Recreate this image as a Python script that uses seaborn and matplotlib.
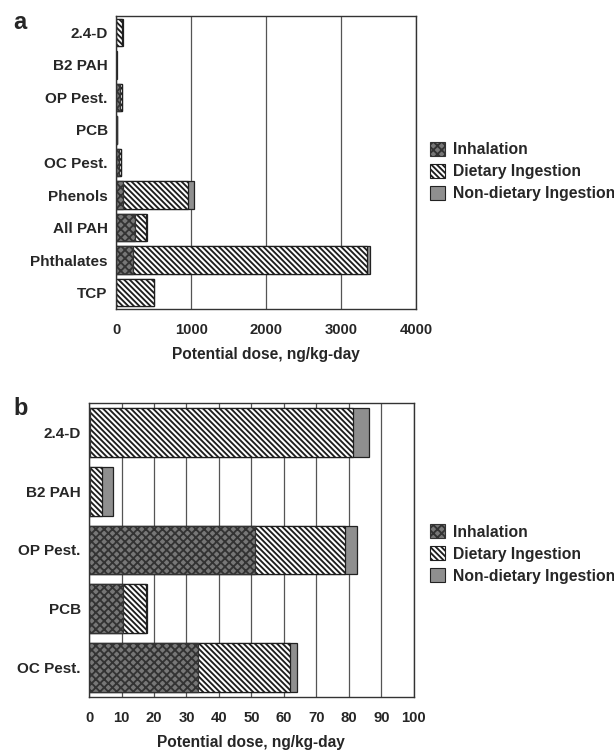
import matplotlib
matplotlib.use("Agg")
import matplotlib.pyplot as plt
from matplotlib.patches import Patch
import seaborn as sns
import pandas as pd

# ---- data ----
cats_a = ["2.4-D", "B2 PAH", "OP Pest.", "PCB", "OC Pest.", "Phenols", "All PAH", "Phthalates", "TCP"]
inhal_a = [0.3, 0.3, 51, 10.5, 33.6, 95, 250, 225, 0]
diet_a = [81, 3.8, 27.8, 7, 28.4, 860, 155, 3120, 505]
nondiet_a = [5, 3.3, 3.7, 0.3, 2.1, 80, 5, 37, 0]

cats_b = ["2.4-D", "B2 PAH", "OP Pest.", "PCB", "OC Pest."]
inhal_b = [0.3, 0.3, 51, 10.5, 33.6]
diet_b = [81, 3.8, 27.8, 7, 28.4]
nondiet_b = [5, 3.3, 3.7, 0.3, 2.1]

xticks_a = [0, 1000, 2000, 3000, 4000]
xticks_b = [0, 10, 20, 30, 40, 50, 60, 70, 80, 90, 100]
series_names = ["Inhalation", "Dietary Ingestion", "Non-dietary Ingestion"]
xlabel = "Potential dose, ng/kg-day"

# ---- style ----
sns.set_style("white")
plt.rcParams["font.family"] = ["Liberation Sans", "DejaVu Sans"]
plt.rcParams["font.weight"] = "bold"
plt.rcParams["hatch.linewidth"] = 1.35

INH_FACE = "#777777"
INH_EDGE = "#333333"
DIET_FACE = "white"
DIET_EDGE = "#1e1e1e"
ND_FACE = "#8f8f8f"
EDGE = "#222222"
INH_HATCH = "xxxx"
DIET_HATCH = "\\\\\\\\\\\\"


def draw(ax, cats, inh, diet, nd, xticks, width):
    df = pd.DataFrame({"cat": cats, "inh": inh, "diet": diet, "nd": nd})
    df["c2"] = df["inh"] + df["diet"]
    df["c3"] = df["c2"] + df["nd"]
    sns.barplot(data=df, x="c3", y="cat", orient="h", color=ND_FACE, saturation=1,
                edgecolor=EDGE, linewidth=0.9, width=width, ax=ax)
    n0 = len(ax.patches)
    sns.barplot(data=df, x="c2", y="cat", orient="h", color=DIET_FACE, saturation=1,
                edgecolor=DIET_EDGE, linewidth=0.9, width=width, ax=ax)
    for p in ax.patches[n0:]:
        p.set_hatch(DIET_HATCH)
    n1 = len(ax.patches)
    sns.barplot(data=df, x="inh", y="cat", orient="h", color=INH_FACE, saturation=1,
                edgecolor=INH_EDGE, linewidth=0.9, width=width, ax=ax)
    for p in ax.patches[n1:]:
        p.set_hatch(INH_HATCH)
    ax.set_xlim(xticks[0], xticks[-1])
    ax.set_xticks(xticks)
    ax.set_ylim(len(cats) - 0.5, -0.5)
    ax.set_axisbelow(True)
    ax.xaxis.grid(True, color="#555555", linewidth=0.9)
    ax.yaxis.grid(False)
    for s in ax.spines.values():
        s.set_visible(True)
        s.set_color("#333333")
        s.set_linewidth(1.0)
    ax.tick_params(axis="x", length=0, labelsize=10.7, pad=10)
    ax.tick_params(axis="y", length=0, labelsize=11, pad=6)
    for lab in ax.get_xticklabels() + ax.get_yticklabels():
        lab.set_fontweight("bold")
    ax.set_ylabel("")
    ax.set_xlabel(xlabel, fontsize=11.2, fontweight="bold", labelpad=7)


def legend(fig, y):
    handles = [
        Patch(facecolor=INH_FACE, edgecolor=INH_EDGE, hatch=INH_HATCH, linewidth=0.8),
        Patch(facecolor=DIET_FACE, edgecolor=DIET_EDGE, hatch=DIET_HATCH, linewidth=0.8),
        Patch(facecolor=ND_FACE, edgecolor=EDGE, linewidth=0.8),
    ]
    fig.legend(handles, series_names, loc="upper left", bbox_to_anchor=(0.700, y),
               frameon=False, borderpad=0, borderaxespad=0,
               handlelength=1.0, handleheight=1.0, handletextpad=0.45,
               labelspacing=0.42, prop={"size": 11.3, "weight": "bold"})


fig = plt.figure(figsize=(6.14, 7.51), dpi=100)
ax_a = fig.add_axes([0.189, 0.5886, 0.489, 0.390])
ax_b = fig.add_axes([0.145, 0.0719, 0.529, 0.3915])

draw(ax_a, cats_a, inhal_a, diet_a, nondiet_a, xticks_a, 0.84)
draw(ax_b, cats_b, inhal_b, diet_b, nondiet_b, xticks_b, 0.83)

legend(fig, 0.811)
legend(fig, 0.302)

fig.text(0.022, 0.970, "a", fontsize=17, fontweight="bold", va="center")
fig.text(0.022, 0.456, "b", fontsize=17, fontweight="bold", va="center")

fig.savefig("out.png", dpi=100)
